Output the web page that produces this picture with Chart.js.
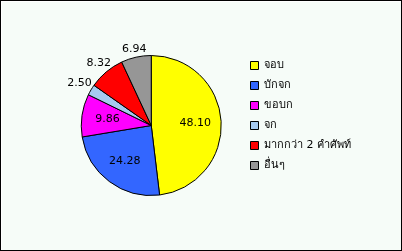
<!DOCTYPE html>
<html>
<head>
<meta charset="utf-8">
<script src="https://cdn.jsdelivr.net/npm/chart.js@4"></script>
<style>
    body { margin: 0; background: #ffffff; }
    #frame {
        position: relative;
        width: 402px;
        height: 251px;
        box-sizing: border-box;
        border: 1px solid #000;
        background: #f6fcf8;
        box-shadow: inset 1px 1px 0 #ffffff;
    }
    #chart { position: absolute; left: 0; top: 0; }
</style>
</head>
<body>
<div id="frame"><canvas id="chart" width="400" height="249"></canvas></div>
<script>
const categories = ['จอบ', 'บักจก', 'ขอบก', 'จก', 'มากกว่า 2 คำศัพท์', 'อื่นๆ'];
const values = [48.10, 24.28, 9.86, 2.50, 8.32, 6.94];
const colors = ['#ffff00', '#3366ff', '#ff00ff', '#a6caf0', '#ff0000', '#969696'];

const FONT = { family: '"DejaVu Sans", Verdana, sans-serif', size: 11 };

// Value labels: big slices inside, small ones outside the pie
const sliceLabels = {
    id: 'sliceLabels',
    afterDatasetsDraw(chart) {
        const ctx = chart.ctx;
        const meta = chart.getDatasetMeta(0);
        ctx.save();
        ctx.font = `${FONT.size}px ${FONT.family}`;
        ctx.fillStyle = '#000';
        ctx.textAlign = 'center';
        ctx.textBaseline = 'middle';
        meta.data.forEach((arc, i) => {
            const v = values[i];
            const text = v.toFixed(2);
            const mid = (arc.startAngle + arc.endAngle) / 2;
            const r = arc.outerRadius;
            let d;
            if (v > 9) {
                d = r * 0.63;
            } else {
                const tw = ctx.measureText(text).width;
                d = r * 1.1 + (tw / 2) * Math.abs(Math.cos(mid)) * 0.6;
            }
            ctx.fillText(text, arc.x + Math.cos(mid) * d, arc.y + Math.sin(mid) * d);
        });
        ctx.restore();
    }
};

new Chart(document.getElementById('chart').getContext('2d'), {
    type: 'pie',
    data: {
        labels: categories,
        datasets: [{
            data: values,
            backgroundColor: colors,
            borderColor: '#000',
            borderWidth: 1
        }]
    },
    options: {
        responsive: false,
        animation: false,
        radius: 70,
        layout: {
            padding: { left: 60, top: 50, bottom: 50, right: 40 }
        },
        plugins: {
            legend: {
                position: 'right',
                align: 'start',
                labels: {
                    boxWidth: 8,
                    boxHeight: 8,
                    padding: 9,
                    color: '#000',
                    font: FONT
                }
            },
            tooltip: { enabled: false }
        }
    },
    plugins: [sliceLabels]
});
</script>
</body>
</html>
